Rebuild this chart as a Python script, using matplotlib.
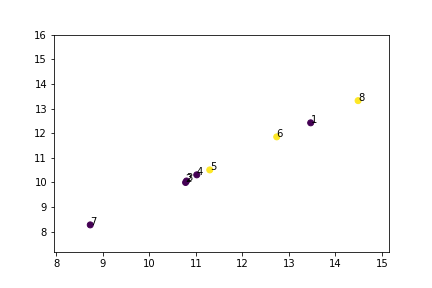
import matplotlib
matplotlib.use('Agg')
import matplotlib.pyplot as plt

# point data
labels = ['1', '2', '3', '4', '5', '6', '7', '8']
xs = [13.47, 10.78, 10.80, 11.02, 11.30, 12.74, 8.73, 14.49]
ys = [12.42, 10.00, 10.06, 10.31, 10.51, 11.85, 8.28, 13.32]
groups = [0, 0, 0, 0, 1, 1, 0, 1]

fig = plt.figure(figsize=(6, 4), dpi=72)
ax = fig.add_subplot(111)
fig.subplots_adjust(bottom=0.125)

ax.scatter(xs, ys, c=groups, cmap='viridis')
for lab, x, y in zip(labels, xs, ys):
    ax.annotate(lab, (x, y))

ax.set_ylim(7.18, 16)
ax.set_xlim(7.95, 15.15)

fig.savefig('out.png', dpi=72)
